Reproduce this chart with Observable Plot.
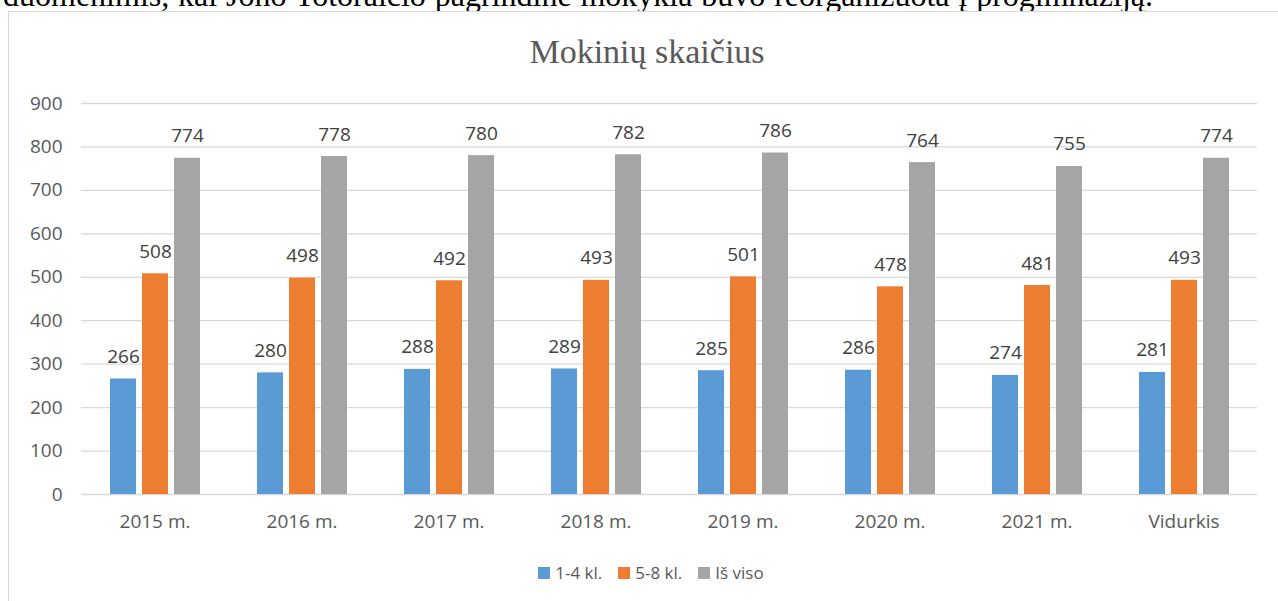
<!DOCTYPE html>
<html>
<head>
<meta charset="utf-8">
<script src="https://cdn.jsdelivr.net/npm/d3@7"></script>
<script src="https://cdn.jsdelivr.net/npm/@observablehq/plot@0.6"></script>
<style>
  html, body { margin: 0; padding: 0; background: #fff; }
  #wrap { position: relative; width: 1278px; height: 601px; overflow: hidden; }
  #topline { position: absolute; left: 0; top: 0; width: 1278px; height: 11px; overflow: hidden; }
  #topline span { position: absolute; left: 3px; top: -21px; width: 1150px; font-family: "Liberation Serif", serif; font-size: 32px; line-height: 1; color: #000; text-align: justify; text-align-last: justify; white-space: nowrap; display: block; }
  #frame { position: absolute; left: 8px; top: 11px; width: 1280px; height: 600px; border-left: 1.5px solid #d9d9d9; border-top: 1.5px solid #d9d9d9; }
  #title { position: absolute; left: 0; width: 1294px; top: 32px; text-align: center; font-family: "Liberation Serif", serif; font-size: 34px; color: #595959; line-height: 40px; }
  #chart { position: absolute; left: 0; top: 80px; }
  #legend { position: absolute; left: 0; width: 1302px; top: 561px; display: flex; justify-content: center; gap: 16px; font-family: "Open Sans", sans-serif; font-size: 17px; color: #595959; }
  #legend .item { display: flex; align-items: center; gap: 5px; }
  #legend .sw { width: 12px; height: 12px; display: inline-block; }
</style>
</head>
<body>
<div id="wrap">
  <div id="topline"><span>duomenimis, kai Jono Totoraičio pagrindinė mokykla buvo reorganizuota į progimnaziją.</span></div>
  <div id="frame"></div>
  <div id="title">Mokinių skaičius</div>
  <div id="chart"></div>
  <div id="legend"></div>
</div>
<script>
const categories = ["2015 m.", "2016 m.", "2017 m.", "2018 m.", "2019 m.", "2020 m.", "2021 m.", "Vidurkis"];
const seriesNames = ["1-4 kl.", "5-8 kl.", "Iš viso"];
const seriesColors = ["#5B9BD5", "#ED7D31", "#A5A5A5"];
const values14 = [266, 280, 288, 289, 285, 286, 274, 281];
const values58 = [508, 498, 492, 493, 501, 478, 481, 493];
const valuesAll = [774, 778, 780, 782, 786, 764, 755, 774];
const yTicks = [0, 100, 200, 300, 400, 500, 600, 700, 800, 900];

const seriesValues = [values14, values58, valuesAll];
const data = [];
categories.forEach((c, i) => {
  seriesNames.forEach((s, j) => {
    data.push({cat: c, series: s, value: seriesValues[j][i]});
  });
});

const chart = Plot.plot({
  width: 1278,
  height: 470,
  marginTop: 23,
  marginBottom: 56,
  marginLeft: 80,
  marginRight: 21,
  style: {fontFamily: "Open Sans, sans-serif", fontSize: "19px", color: "#595959", background: "transparent"},
  fx: {domain: categories, padding: 0, label: null},
  x: {domain: seriesNames, paddingInner: 0.2, paddingOuter: 0.85, axis: null},
  y: {domain: [0, 900], label: null},
  color: {domain: seriesNames, range: seriesColors},
  marks: [
    Plot.ruleY(yTicks, {stroke: "#d9d9d9", strokeWidth: 1.3}),
    Plot.axisY({ticks: yTicks, tickSize: 0, tickPadding: 19, label: null, fill: "#595959", fontSize: 19}),
    Plot.axisFx({anchor: "bottom", tickSize: 0, tickPadding: 20, label: null, fill: "#595959", fontSize: 19}),
    Plot.barY(data, {fx: "cat", x: "series", y: "value", fill: "series"}),
    Plot.text(data, {fx: "cat", x: "series", y: "value", text: d => String(d.value), lineAnchor: "bottom", dy: -16, fill: "#404040", fontSize: 19})
  ]
});
document.getElementById("chart").appendChild(chart);

const legend = document.getElementById("legend");
seriesNames.forEach((s, j) => {
  const item = document.createElement("div");
  item.className = "item";
  const sw = document.createElement("span");
  sw.className = "sw";
  sw.style.background = seriesColors[j];
  const lab = document.createElement("span");
  lab.textContent = s;
  item.appendChild(sw);
  item.appendChild(lab);
  legend.appendChild(item);
});
</script>
</body>
</html>
